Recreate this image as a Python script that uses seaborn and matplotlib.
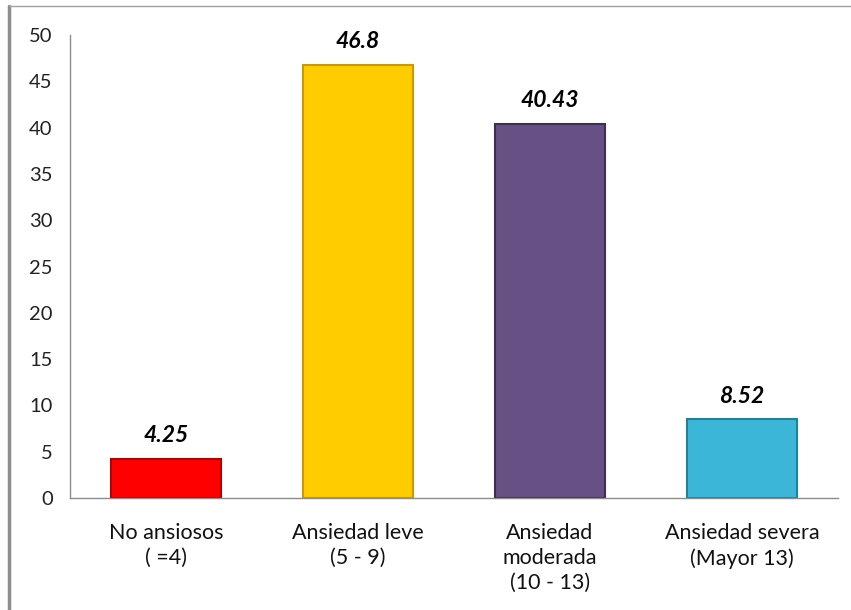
import matplotlib
matplotlib.use("Agg")
import matplotlib.pyplot as plt
import seaborn as sns
import pandas as pd
from matplotlib.lines import Line2D

categories = ["No ansiosos\n( =4)", "Ansiedad leve\n(5 - 9)", "Ansiedad\nmoderada\n(10 - 13)", "Ansiedad severa\n(Mayor 13)"]
values = [4.25, 46.8, 40.43, 8.52]
value_labels = ["4.25", "46.8", "40.43", "8.52"]
colors = ["#FF0000", "#FFCC00", "#675083", "#3BB6D9"]
edge_colors = ["#B00000", "#C89A00", "#3E2D55", "#21809E"]
yticks = [0, 5, 10, 15, 20, 25, 30, 35, 40, 45, 50]

sns.set_theme(style="white")
plt.rcParams['font.family'] = ['Lato', 'DejaVu Sans']

df = pd.DataFrame({"cat": categories, "val": values})

fig = plt.figure(figsize=(8.51, 6.10), dpi=100)
ax = fig.add_axes([70/851, 1-498/610, (838-70)/851, (498-35)/610])

sns.barplot(data=df, x="cat", y="val", hue="cat", palette=colors, legend=False,
            width=0.575, ax=ax, saturation=1)

for patch, ec in zip(ax.patches, edge_colors):
    patch.set_edgecolor(ec)
    patch.set_linewidth(1.5)

for i, (v, lab) in enumerate(zip(values, value_labels)):
    ax.annotate(lab, (i, v), xytext=(0, 9), textcoords="offset points",
                ha="center", va="bottom", fontsize=16.5, fontweight="bold",
                fontstyle="italic", color="black")

ax.set_ylim(0, 50)
ax.set_xlim(-0.5, 3.5)
ax.set_yticks(yticks)
ax.set_yticklabels([str(t) for t in yticks], fontsize=14.5, color="#222222")
ax.tick_params(axis="y", length=0, pad=12.5)
ax.tick_params(axis="x", length=0, pad=18, labelsize=15.5, labelcolor="#111111")
ax.set_xlabel("")
ax.set_ylabel("")
for lbl in ax.get_xticklabels():
    lbl.set_linespacing(1.3)
    lbl.set_va("top")

for s in ["top", "right"]:
    ax.spines[s].set_visible(False)
for s in ["left", "bottom"]:
    ax.spines[s].set_color("#8C8C8C")
    ax.spines[s].set_linewidth(1)

# outer frame lines
fig.add_artist(Line2D([9/851, 9/851], [0, 1-6/610], transform=fig.transFigure,
                      color="#8C8C8C", linewidth=2.5))
fig.add_artist(Line2D([9/851, 1], [1-6/610, 1-6/610], transform=fig.transFigure,
                      color="#A0A0A0", linewidth=1))

fig.savefig("out.png", dpi=100)
